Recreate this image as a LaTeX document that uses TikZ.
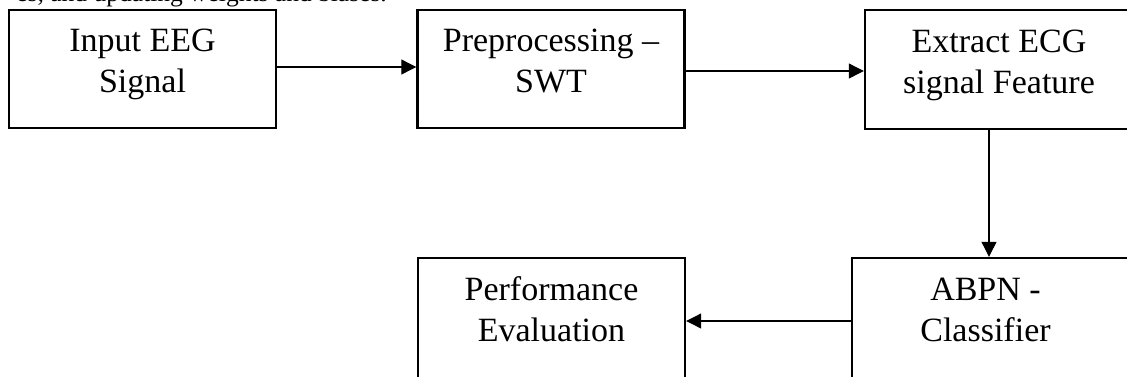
\documentclass[tikz,border=0pt]{standalone}
\usepackage{fontspec}
\setmainfont{Liberation Serif}
\usetikzlibrary{arrows.meta}

\tikzset{
  stagebox/.style={draw, line width=2.4pt, rectangle, inner sep=0pt,
    minimum width=267pt, minimum height=118pt},
  stagetext/.style={align=center, inner sep=0pt, anchor=base,
    font=\fontsize{34pt}{41pt}\selectfont},
  flow/.style={line width=1.1pt, -{Triangle[length=15pt,width=15pt]}},
  bodytext/.style={inner sep=0pt, anchor=base east,
    font=\fontsize{25.5pt}{30pt}\selectfont}
}

\begin{document}
\begin{tikzpicture}[x=1pt,y=1pt]
  \useasboundingbox (0,0) rectangle (1127,-376);
  \clip (0,0) rectangle (1127,-376);

  % tail of the paragraph above the figure
  \node[bodytext] (para) at (387,-1.5) {es, and updating weights and biases.};

  % processing stages
  \node[stagebox] (inp) at (142.5,-69) {};
  \node[stagebox] (pre) at (551,-69) {};
  \node[stagebox, minimum width=268pt, minimum height=119pt] (fe) at (999,-69.5) {};
  \node[stagebox, minimum width=280pt, minimum height=124pt] (cls) at (992,-320) {};
  \node[stagebox, minimum height=124pt] (perf) at (551.5,-320) {};

  % stage captions, anchored on the baseline of their last line
  \node[stagetext] (tinp) at ([yshift=-84pt]inp.north) {Input EEG\\Signal};
  \node[stagetext] (tpre) at ([yshift=-84pt]pre.north) {Preprocessing --\\SWT};
  \node[stagetext] (tfe) at ([yshift=-85pt]fe.north) {Extract ECG\\signal Feature};
  \node[stagetext] (tcls) at ([xshift=-6.5pt,yshift=-85pt]cls.north) {ABPN -\\Classifier};
  \node[stagetext] (tperf) at ([yshift=-85pt]perf.north) {Performance\\Evaluation};

  % connectors
  \draw[flow] ([yshift=2pt]inp.east) -- ([yshift=2pt]pre.west);
  \draw[flow] ([yshift=-2pt]pre.east) -- ([yshift=-2pt]pre.east -| fe.west);
  \draw[flow] ([xshift=-10pt]fe.south) -- ([xshift=-10pt]fe.south |- cls.north);
  \draw[flow] ([yshift=-1pt]cls.west) -- ([yshift=-1pt]cls.west -| perf.east);
\end{tikzpicture}
\end{document}
